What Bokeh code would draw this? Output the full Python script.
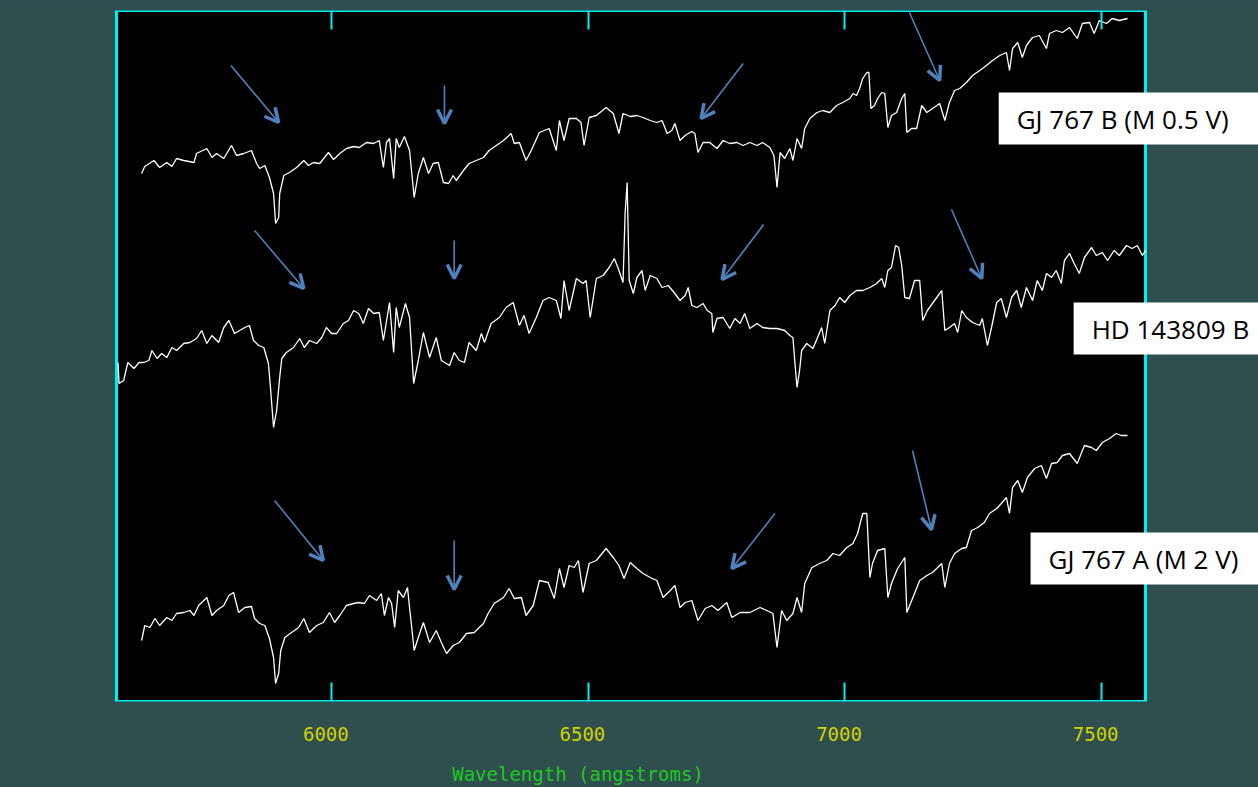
from bokeh.plotting import figure
from bokeh.models import Range1d, LinearAxis, FixedTicker, Label, Arrow, OpenHead, ColumnDataSource
from bokeh.embed import file_html
from bokeh.resources import INLINE

# ---------------- data (wavelength in angstroms, flux + offset in arbitrary units) ----------------
wl_gj767b = [5630,5636,5654,5665,5679,5689,5698,5712,5732,5737,
             5757,5767,5776,5790,5805,5815,5829,5844,5854,5860,
             5870,5879,5887,5891,5897,5899,5907,5918,5932,5946,
             5955,5965,5977,5994,6004,6016,6029,6043,6054,6068,
             6082,6093,6101,6107,6113,6121,6126,6132,6142,6152,
             6161,6169,6179,6189,6198,6208,6218,6228,6237,6243,
             6257,6268,6282,6296,6307,6321,6335,6350,6356,6366,
             6379,6389,6405,6424,6438,6444,6453,6463,6477,6486,
             6492,6502,6516,6535,6549,6560,6568,6582,6595,6607,
             6621,6634,6644,6654,6663,6669,6679,6689,6702,6708,
             6714,6724,6737,6751,6763,6776,6790,6802,6815,6829,
             6840,6854,6862,6868,6874,6883,6893,6899,6907,6916,
             6922,6932,6946,6957,6971,6984,6996,7010,7016,7023,
             7029,7035,7043,7047,7051,7058,7064,7072,7078,7084,
             7091,7101,7111,7117,7121,7130,7140,7150,7160,7171,
             7185,7195,7204,7214,7224,7237,7249,7263,7276,7288,
             7302,7315,7321,7327,7337,7346,7354,7366,7379,7393,
             7399,7412,7424,7438,7453,7463,7477,7486,7496,7510,
             7521,7535,7551]
flux_gj767b = [528,535,541,534,539,535,543,541,539,548,
               553,544,548,543,556,546,548,551,538,533,
               536,524,508,478,484,508,526,529,534,541,
               536,539,538,549,542,548,553,555,554,559,
               558,561,534,559,563,523,563,554,565,551,
               504,528,544,528,538,539,519,518,526,521,
               531,538,541,544,551,556,561,568,558,559,
               541,551,569,573,551,581,561,583,583,579,
               556,584,586,594,588,568,588,585,586,584,
               581,579,581,568,571,578,561,566,570,568,
               549,559,559,553,561,558,559,556,559,556,
               559,554,546,514,549,543,553,541,563,553,
               573,583,589,591,589,596,599,603,608,606,
               613,623,629,629,593,596,603,609,608,574,
               586,589,603,608,569,573,573,596,589,593,
               598,581,599,611,613,619,626,631,636,641,
               646,649,631,653,659,644,656,664,666,653,
               668,671,669,674,663,678,679,668,681,678,
               683,681,683]

wl_hd143809b = [5584,5586,5595,5603,5615,5625,5634,5644,5650,5660,
                5669,5679,5689,5698,5712,5724,5737,5747,5757,5767,
                5780,5790,5800,5811,5821,5831,5840,5848,5858,5868,
                5877,5881,5887,5893,5899,5903,5912,5926,5938,5947,
                5957,5971,5981,5990,6000,6010,6023,6033,6043,6053,
                6062,6072,6082,6093,6101,6113,6121,6126,6132,6144,
                6152,6160,6169,6179,6191,6204,6214,6230,6239,6249,
                6259,6268,6282,6292,6298,6311,6327,6340,6354,6366,
                6375,6385,6399,6412,6424,6438,6447,6453,6463,6477,
                6490,6496,6504,6516,6529,6541,6551,6558,6568,6572,
                6576,6580,6588,6595,6605,6611,6621,6634,6644,6656,
                6669,6679,6689,6695,6702,6712,6724,6732,6741,6743,
                6751,6763,6776,6786,6796,6805,6815,6829,6840,6854,
                6868,6883,6893,6899,6903,6907,6912,6916,6926,6938,
                6947,6955,6961,6971,6981,6990,7000,7010,7023,7035,
                7049,7062,7072,7078,7084,7091,7099,7105,7111,7117,
                7126,7136,7146,7152,7161,7175,7189,7195,7204,7214,
                7220,7228,7237,7249,7263,7268,7278,7286,7296,7305,
                7315,7325,7335,7344,7354,7366,7375,7385,7393,7403,
                7412,7422,7428,7438,7447,7457,7467,7481,7490,7502,
                7512,7525,7535,7549,7560,7570,7580,7586]
flux_hd143809b = [339,318,321,339,333,339,339,341,351,343,
                  348,344,354,351,358,359,363,371,358,366,
                  359,374,381,368,371,374,376,361,356,354,
                  338,314,274,291,324,343,349,354,363,354,
                  361,358,364,374,368,368,378,381,391,388,
                  378,393,388,389,361,399,349,394,374,398,
                  384,318,341,369,344,364,341,336,349,341,
                  339,359,351,368,359,378,384,394,399,376,
                  386,368,384,401,404,401,383,421,391,423,
                  418,421,384,423,426,434,443,434,419,488,
                  519,421,408,424,431,411,426,423,414,416,
                  408,401,406,414,396,394,398,391,388,369,
                  383,384,373,383,378,388,373,378,374,373,
                  373,371,366,364,338,314,331,351,358,353,
                  364,374,358,391,396,404,399,406,411,411,
                  414,418,423,414,431,434,456,454,436,404,
                  403,421,421,381,391,401,411,371,374,378,
                  369,391,384,379,376,383,356,374,399,403,
                  384,404,411,394,414,401,421,411,428,424,
                  431,418,441,448,438,428,444,454,446,449,
                  441,451,446,456,453,456,446,451]

wl_gj767a = [5630,5636,5646,5656,5665,5679,5689,5698,5712,5724,
             5732,5741,5757,5767,5776,5790,5800,5809,5819,5831,
             5844,5850,5860,5870,5879,5887,5891,5897,5901,5909,
             5922,5936,5946,5957,5971,5984,5996,6006,6016,6029,
             6043,6053,6064,6074,6088,6097,6103,6111,6117,6123,
             6130,6140,6148,6152,6161,6169,6179,6191,6204,6214,
             6224,6237,6249,6263,6278,6296,6305,6317,6335,6346,
             6356,6370,6379,6393,6405,6422,6434,6444,6453,6463,
             6473,6481,6490,6502,6516,6535,6549,6560,6570,6582,
             6595,6607,6621,6634,6646,6660,6669,6679,6689,6702,
             6714,6728,6741,6753,6770,6780,6796,6815,6835,6848,
             6860,6868,6877,6887,6899,6907,6916,6922,6936,6951,
             6965,6977,6990,7004,7016,7025,7035,7043,7049,7054,
             7064,7078,7084,7091,7103,7117,7121,7132,7146,7160,
             7171,7189,7195,7204,7214,7228,7237,7247,7259,7272,
             7282,7296,7305,7315,7321,7327,7337,7346,7356,7370,
             7383,7393,7403,7414,7424,7438,7453,7467,7481,7490,
             7502,7516,7529,7539,7551]
flux_gj767a = [61,76,74,83,76,84,81,88,89,91,
               86,96,104,86,91,96,106,109,89,94,
               95,83,78,76,63,44,18,28,51,64,
               69,74,83,69,76,79,89,79,86,96,
               98,99,98,106,101,108,86,104,98,74,
               111,104,114,94,51,64,79,59,71,59,
               48,56,59,68,69,78,88,98,104,113,
               103,104,86,96,121,119,103,133,114,136,
               134,141,109,138,141,153,144,136,123,139,
               133,128,124,121,104,111,116,94,99,101,
               81,93,96,91,99,84,89,89,94,91,
               88,54,91,81,88,104,89,118,134,138,
               141,148,146,154,158,168,188,188,124,138,
               151,153,104,118,133,144,89,103,121,126,
               129,138,114,138,148,153,154,171,174,179,
               188,193,198,204,188,214,221,209,224,233,
               236,223,238,239,246,248,238,256,254,251,
               259,263,268,266,266]

tick_values = [6000, 6500, 7000, 7500]
tick_labels = ["6000", "6500", "7000", "7500"]

# plotted window (wavelength and flux limits of the black data area)
wl_min, wl_max = 5581, 7586
flux_min, flux_max = 0, 691

# arrows pointing at features (start -> end)
arrow_x0 = [5804, 6220, 6802, 7126, 5850, 6239, 6842, 7208, 5889, 6239, 6864, 7132]
arrow_y0 = [636, 616, 638, 689, 471, 461, 477, 492, 201, 161, 188, 251]
arrow_x1 = [5897, 6220, 6720, 7185, 5946, 6239, 6761, 7267, 5984, 6239, 6780, 7169]
arrow_y1 = [579, 578, 583, 621, 413, 423, 422, 423, 141, 112, 133, 172]

label_texts = ["GJ 767 B (M 0.5 V)", "HD 143809 B", "GJ 767 A (M 2 V)"]
label_x = [7300, 7446, 7362]
label_y = [583, 373, 143]

x_title = "Wavelength (angstroms)"

# ---------------- styling ----------------
BG = "#2F4F4F"
CYAN = "#00F0F0"
YELLOW = "#D2D200"
GREEN = "#1EC81E"
ARROW = "#4F81BD"
NBSP = "\u00a0"

W, H = 1258, 787
left_px, right_px = 116, 1145          # data-area edges on the canvas
px_per = (right_px - left_px) / (wl_max - wl_min)
x_start = wl_min - left_px / px_per
x_end = wl_max + (W - right_px) / px_per

p = figure(width=W, height=H,
           x_range=Range1d(x_start, x_end), y_range=Range1d(flux_min, flux_max),
           output_backend="svg", toolbar_location=None,
           x_axis_location=None, y_axis_location=None,
           min_border_left=0, min_border_right=0,
           min_border_top=10, min_border_bottom=86,
           background_fill_color=BG, border_fill_color=BG,
           outline_line_color=None)
p.styles = {"background-color": BG}
p.xgrid.visible = False
p.ygrid.visible = False

# black data area with cyan frame
p.quad(left=[wl_min], right=[wl_max], bottom=[flux_min], top=[flux_max],
       fill_color="black", line_color=CYAN, line_width=3)

ticker = FixedTicker(ticks=tick_values)
xb = LinearAxis(ticker=ticker, axis_line_color=None,
                major_tick_line_color=CYAN, major_tick_line_width=2,
                major_tick_in=19, major_tick_out=0,
                minor_tick_line_color=None,
                major_label_overrides={t: s + NBSP for t, s in zip(tick_values, tick_labels)},
                major_label_text_color=YELLOW,
                major_label_text_font="DejaVu Sans Mono",
                major_label_text_font_size="19px",
                major_label_standoff=21,
                axis_label=x_title + NBSP * 9,
                axis_label_text_color=GREEN,
                axis_label_text_font="DejaVu Sans Mono",
                axis_label_text_font_size="19px",
                axis_label_text_font_style="normal",
                axis_label_standoff=15)
p.add_layout(xb, "below")
xt = LinearAxis(ticker=ticker, axis_line_color=None,
                major_tick_line_color=CYAN, major_tick_line_width=2,
                major_tick_in=19, major_tick_out=0,
                minor_tick_line_color=None,
                major_label_text_alpha=0, major_label_text_font_size="1px",
                major_label_standoff=0)
p.add_layout(xt, "above")

for wl, fl in [(wl_gj767b, flux_gj767b), (wl_hd143809b, flux_hd143809b), (wl_gj767a, flux_gj767a)]:
    p.line(wl, fl, line_color="white", line_width=1.3)

asrc = ColumnDataSource(dict(x0=arrow_x0, y0=arrow_y0, x1=arrow_x1, y1=arrow_y1))
p.add_layout(Arrow(x_start="x0", y_start="y0", x_end="x1", y_end="y1", source=asrc,
                   line_color=ARROW, line_width=1.6,
                   end=OpenHead(size=14, line_color=ARROW, line_width=3.5)))

for txt, lx, ly in zip(label_texts, label_x, label_y):
    p.add_layout(Label(x=lx, y=ly, text=txt, text_font="Open Sans", text_font_size="26px",
                       text_color="black", text_align="left", text_baseline="middle",
                       background_fill_color="white",
                       padding=dict(left=18, right=40, top=8, bottom=8)))

open("out.html", "w").write(file_html(p, INLINE))
